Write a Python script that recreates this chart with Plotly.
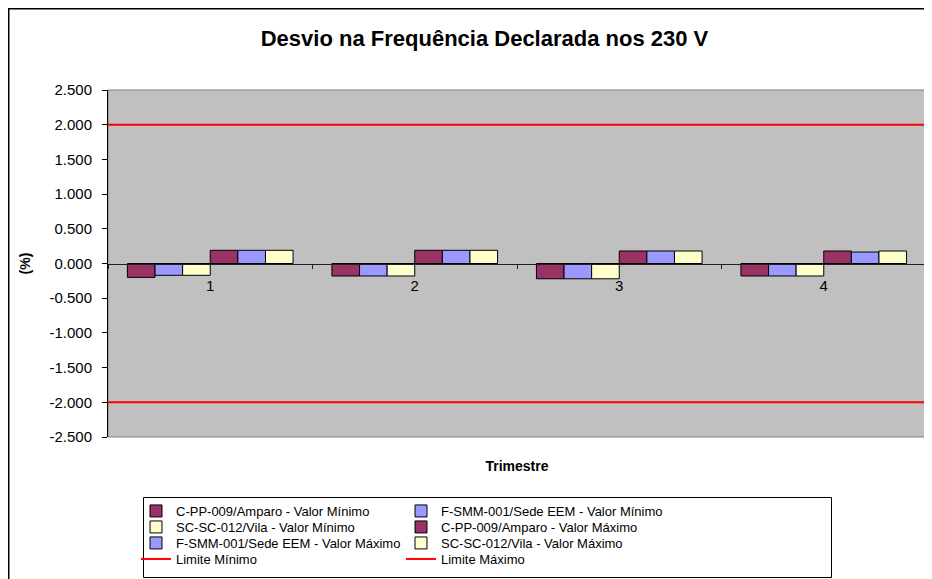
import plotly.graph_objects as go

OFF = 8  # page body margin offset
W, H = 932 - OFF, 579 - OFF

categories = ["1", "2", "3", "4"]

cpp_min = [-0.20, -0.18, -0.22, -0.18]
fsmm_min = [-0.17, -0.18, -0.22, -0.18]
scsc_min = [-0.17, -0.18, -0.22, -0.18]
cpp_max = [0.19, 0.19, 0.18, 0.18]
fsmm_max = [0.19, 0.19, 0.18, 0.165]
scsc_max = [0.19, 0.19, 0.18, 0.18]
limite_min = [-2.0, -2.0]
limite_max = [2.0, 2.0]
limit_x = [0, 1]

y_tick_vals = [2.5, 2.0, 1.5, 1.0, 0.5, 0.0, -0.5, -1.0, -1.5, -2.0, -2.5]
y_tick_text = ["2.500", "2.000", "1.500", "1.000", "0.500", "0.000",
               "-0.500", "-1.000", "-1.500", "-2.000", "-2.500"]

PURPLE, BLUE, YELLOW, RED = "#993366", "#9999FF", "#FFFFCC", "#FF0000"

# plot area in page pixels -> figure pixels
PL, PR, PT, PB = 108 - OFF, 926 - OFF, 90 - OFF, 437 - OFF
pw, ph = PR - PL, PB - PT

def px_x(p):  # page px -> paper
    return (p - OFF - PL) / pw

def px_y(p):
    return (PB - (p - OFF)) / ph

fig = go.Figure()

bar_series = [
    ("C-PP-009/Amparo - Valor Mínimo", cpp_min, PURPLE, "legend"),
    ("F-SMM-001/Sede EEM - Valor Mínimo", fsmm_min, BLUE, "legend"),
    ("SC-SC-012/Vila - Valor Mínimo", scsc_min, YELLOW, "legend2"),
    ("C-PP-009/Amparo - Valor Máximo", cpp_max, PURPLE, "legend2"),
    ("F-SMM-001/Sede EEM - Valor Máximo", fsmm_max, BLUE, "legend3"),
    ("SC-SC-012/Vila - Valor Máximo", scsc_max, YELLOW, "legend3"),
]
for name, vals, col, lg in bar_series:
    fig.add_trace(go.Bar(
        x=categories, y=vals, name=name, legend=lg,
        marker=dict(color=col, line=dict(color="black", width=1)),
    ))

fig.add_trace(go.Scatter(x=limit_x, y=limite_min, xaxis="x2", mode="lines",
                         name="Limite Mínimo", legend="legend4",
                         line=dict(color=RED, width=2)))
fig.add_trace(go.Scatter(x=limit_x, y=limite_max, xaxis="x2", mode="lines",
                         name="Limite Máximo", legend="legend4",
                         line=dict(color=RED, width=2)))

font = "Liberation Sans, Arial, sans-serif"

def row_legend(center_y_page):
    return dict(
        xref="container", yref="container", yanchor="top", xanchor="left",
        x=(136 - OFF) / W, y=1 - (center_y_page - 15 - OFF) / H,
        orientation="h", entrywidth=220, entrywidthmode="pixels",
        bgcolor="rgba(0,0,0,0)", borderwidth=0,
        font=dict(family=font, size=13, color="black"),
        itemclick=False, itemdoubleclick=False, tracegroupgap=0,
    )

bx0, by_top, bx1, by_bot = px_x(8.75), px_y(8.75), px_x(960), px_y(620)

fig.update_layout(
    width=W, height=H,
    margin=dict(l=PL, r=W - PR, t=PT, b=H - PB, pad=0, autoexpand=False),
    paper_bgcolor="white",
    plot_bgcolor="#C0C0C0",
    font=dict(family=font, size=14, color="black"),
    barmode="group", bargap=0.19, bargroupgap=0,
    title=dict(text="<b>Desvio na Frequência Declarada nos 230 V</b>",
               x=(484.5 - OFF) / W, xanchor="center", xref="container",
               y=1 - (38 - OFF) / H, yanchor="middle", yref="container",
               font=dict(family=font, size=22, color="black")),
    xaxis=dict(
        type="category", anchor="free", position=0.5,
        showline=True, linecolor="#202020", linewidth=1,
        ticks="outside", tickson="boundaries", ticklen=4, tickcolor="#202020",
        showgrid=False, zeroline=False,
        ticklabelstandoff=8,
        tickfont=dict(family=font, size=15, color="black"),
    ),
    xaxis2=dict(
        overlaying="x", anchor="y", side="bottom", range=[0, 1],
        showticklabels=False, ticks="", showgrid=False, zeroline=False,
        showline=False,
        title=dict(text="<b>Trimestre</b>", standoff=24,
                   font=dict(family=font, size=14, color="black")),
    ),
    yaxis=dict(
        range=[-2.5, 2.5], tickmode="array",
        tickvals=y_tick_vals, ticktext=y_tick_text,
        showline=True, linecolor="black", linewidth=1,
        ticks="outside", ticklen=5, tickcolor="black",
        showgrid=False, zeroline=False, ticklabelstandoff=7,
        tickfont=dict(family=font, size=15, color="black"),
        title=dict(text="<b>(%)</b>",
                   font=dict(family=font, size=14, color="black")),
    ),
    legend=row_legend(511),
    legend2=row_legend(527),
    legend3=row_legend(543),
    legend4=row_legend(559),
    showlegend=True,
    shapes=[
        # plot area frame
        dict(type="rect", xref="paper", yref="paper", x0=0, x1=1, y0=0, y1=1,
             line=dict(color="#808080", width=1), layer="below"),
        # outer chart border (left and top edges; the rest lies off-page)
        dict(type="path", xref="paper", yref="paper",
             path=f"M {bx0},{by_bot} L {bx0},{by_top} L {bx1},{by_top}",
             line=dict(color="black", width=1.5)),
        # legend box
        dict(type="rect", xref="paper", yref="paper",
             x0=px_x(143.5), x1=px_x(831.5), y0=px_y(577.5), y1=px_y(497.5),
             line=dict(color="black", width=1)),
    ],
)

fig.write_html("out.html",
               post_script="document.documentElement.style.overflow='hidden';"
                           "document.body.style.overflow='hidden';")
